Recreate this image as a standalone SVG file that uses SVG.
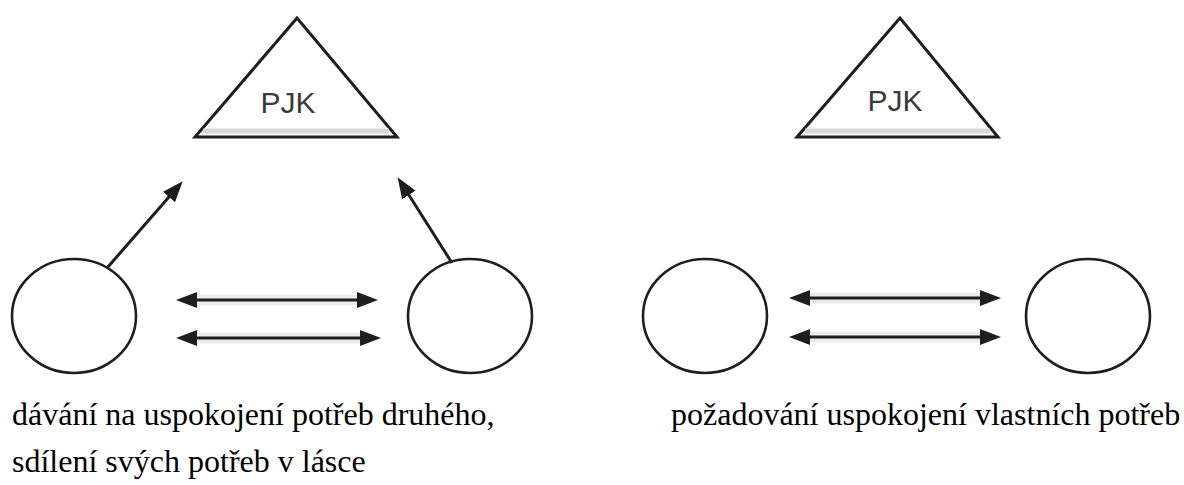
<svg xmlns="http://www.w3.org/2000/svg" width="1184" height="485" viewBox="0 0 1184 485">
  <style>
    .tri { fill: #ffffff; stroke: #1e1e1e; stroke-width: 3; stroke-linejoin: miter; }
    .band { stroke: #d8d8d8; stroke-width: 5; }
    .pjk { font-family: "Liberation Sans", Arial, sans-serif; font-size: 30px; fill: #3a3a3a; text-anchor: middle; }
    .person { fill: #ffffff; stroke: #1e1e1e; stroke-width: 2.6; }
    .conn { stroke: #1e1e1e; stroke-width: 3; fill: none; }
    .halo { stroke: #ebebeb; stroke-width: 11; fill: none; }
    .cap { font-family: "Liberation Serif", "Times New Roman", serif; font-size: 32px; fill: #000000; }
  </style>
  <defs>
    <marker id="ah" markerUnits="userSpaceOnUse" markerWidth="22" markerHeight="18" viewBox="0 0 22 18" refX="10" refY="8" orient="auto-start-reverse">
      <path d="M0,0 L21,8 L0,16 Z" fill="#1e1e1e"/>
    </marker>
  </defs>
  <rect width="1184" height="485" fill="#ffffff"/>

  <g id="pjk-left">
    <polygon class="tri" points="297,18 195,137 397,137"/>
    <line class="band" x1="203" y1="131" x2="389" y2="131"/>
    <text class="pjk" x="288" y="113">PJK</text>
  </g>
  <g id="pjk-right">
    <polygon class="tri" points="900,18 797,137 998,137"/>
    <line class="band" x1="805" y1="131" x2="990" y2="131"/>
    <text class="pjk" x="895" y="111">PJK</text>
  </g>

  <g id="person-left-a"><ellipse class="person" cx="74" cy="316" rx="62" ry="57"/></g>
  <g id="person-left-b"><ellipse class="person" cx="470" cy="316" rx="62" ry="57"/></g>
  <g id="person-right-a"><ellipse class="person" cx="705" cy="316" rx="62" ry="57"/></g>
  <g id="person-right-b"><ellipse class="person" cx="1088" cy="316" rx="62" ry="57"/></g>

  <g id="connectors">
    <line class="halo" x1="190" y1="300" x2="366" y2="300"/>
    <line class="halo" x1="190" y1="338" x2="368" y2="338"/>
    <line class="halo" x1="803" y1="298" x2="988" y2="298"/>
    <line class="halo" x1="803" y1="337" x2="988" y2="337"/>
    <line class="conn" x1="107" y1="268" x2="175.5" y2="189.5" marker-end="url(#ah)"/>
    <line class="conn" x1="452" y1="263" x2="403.5" y2="186.5" marker-end="url(#ah)"/>
    <line class="conn" x1="187" y1="300" x2="367" y2="300" marker-start="url(#ah)" marker-end="url(#ah)"/>
    <line class="conn" x1="187" y1="338" x2="370" y2="338" marker-start="url(#ah)" marker-end="url(#ah)"/>
    <line class="conn" x1="800" y1="298" x2="990" y2="298" marker-start="url(#ah)" marker-end="url(#ah)"/>
    <line class="conn" x1="800" y1="337" x2="990" y2="337" marker-start="url(#ah)" marker-end="url(#ah)"/>
  </g>

  <g id="captions">
    <text class="cap" x="12" y="425">dávání na uspokojení potřeb druhého,</text>
    <text class="cap" x="12" y="472">sdílení svých potřeb v lásce</text>
    <text class="cap" x="671" y="425">požadování uspokojení vlastních potřeb</text>
  </g>
</svg>
